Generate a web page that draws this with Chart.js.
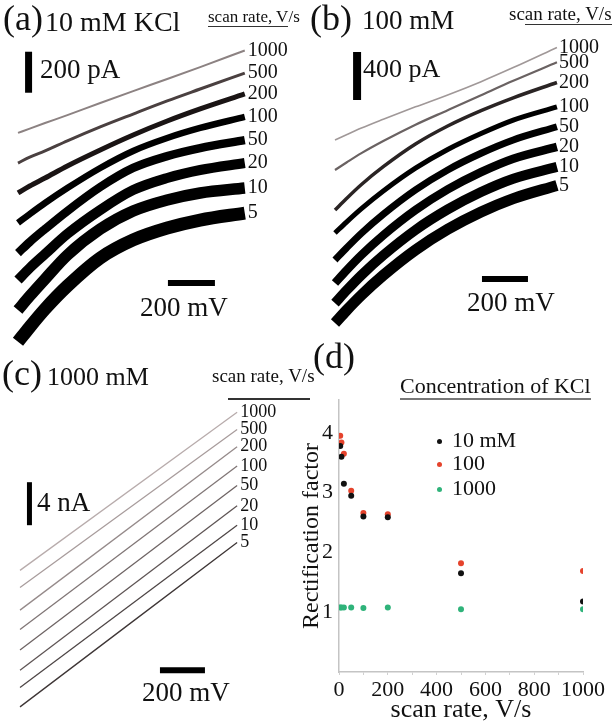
<!DOCTYPE html>
<html><head><meta charset="utf-8">
<script src="https://cdn.jsdelivr.net/npm/chart.js@4.4.0/dist/chart.umd.min.js"></script>
<style>
html,body{margin:0;padding:0;background:#fff;}
#wrap{position:relative;width:616px;height:723px;overflow:hidden;font-family:'Liberation Serif','Times New Roman',serif;color:#111;}
canvas{position:absolute;}
.t{position:absolute;white-space:nowrap;line-height:1;}
.ul{border-bottom:1.5px solid #333;}
.dot{position:absolute;width:5px;height:5px;border-radius:50%;}
</style></head><body><div id="wrap">
<canvas id="ca" width="300" height="350" style="left:0;top:0"></canvas>
<canvas id="cb" width="308" height="340" style="left:308px;top:0"></canvas>
<canvas id="cc" width="310" height="373" style="left:0;top:350px"></canvas>
<canvas id="cd" width="316" height="383" style="left:300px;top:340px"></canvas>

<div class="t" style="left:3px;top:0px;font-size:36px">(a)</div>
<div class="t" style="left:45px;top:8px;font-size:28px">10 mM KCl</div>
<div class="t" style="left:208px;top:8px;font-size:17px"><span class="ul">scan rate, V</span>/s</div>
<div class="t" style="left:40px;top:56px;font-size:27px">200 pA</div>
<div class="t" style="left:140px;top:294px;font-size:27px">200 mV</div>

<div class="t" style="left:310px;top:0px;font-size:36px">(b)</div>
<div class="t" style="left:362px;top:7px;font-size:27px">100 mM</div>
<div class="t" style="left:509px;top:4px;font-size:19px">sc<span class="ul">an rate, V/s</span></div>
<div class="t" style="left:363px;top:56px;font-size:26px">400 pA</div>
<div class="t" style="left:467px;top:289px;font-size:27px">200 mV</div>

<div class="t" style="left:2px;top:355px;font-size:36px">(c)</div>
<div class="t" style="left:47px;top:364px;font-size:26px">1000 mM</div>
<div class="t" style="left:212px;top:366px;font-size:19px">scan rate, V/s</div>
<div style="position:absolute;left:228px;top:398px;width:82px;height:1.5px;background:#333"></div>
<div class="t" style="left:37px;top:489px;font-size:27px">4 nA</div>
<div class="t" style="left:142px;top:679px;font-size:27px">200 mV</div>

<div class="t" style="left:313px;top:338px;font-size:36px">(d)</div>
<div class="t" style="left:400px;top:375px;font-size:22px"><span style="border-bottom:2.5px solid #777">Concentration of KCl</span></div>
<div class="dot" style="left:437px;top:439px;background:#111"></div>
<div class="t" style="left:452px;top:429px;font-size:22px">10 mM</div>
<div class="dot" style="left:437px;top:462px;background:#e5432c"></div>
<div class="t" style="left:452px;top:452px;font-size:22px">100</div>
<div class="dot" style="left:437px;top:487px;background:#2fb37a"></div>
<div class="t" style="left:452px;top:477px;font-size:22px">1000</div>
</div>
<script>
// ---------- data ----------
const rateLabels = ['1000', '500', '200', '100', '50', '20', '10', '5'];

// panels (a) and (b): voltage sample points, mV
const voltsAB = [0, 50, 115, 210, 350, 490, 635, 775, 965];
// panel (a) 10 mM KCl, current (pA, traces offset for clarity)
const iA1000 = [1059, 1080, 1107, 1146, 1205, 1263, 1322, 1380, 1461];
const iA500  = [912, 941, 971, 1020, 1088, 1151, 1215, 1273, 1351];
const iA200  = [766, 800, 839, 898, 976, 1049, 1117, 1176, 1249];
const iA100  = [620, 663, 717, 790, 888, 971, 1034, 1083, 1137];
const iA50   = [473, 527, 590, 678, 795, 888, 946, 985, 1024];
const iA20   = [341, 400, 468, 566, 683, 780, 839, 878, 912];
const iA10   = [195, 263, 346, 463, 590, 678, 732, 766, 790];
const iA5    = [40, 112, 200, 312, 449, 537, 595, 634, 668];
// panel (b) 100 mM
const iB1000 = [1667, 1711, 1766, 1839, 1943, 2042, 2153, 2270, 2438];
const iB500  = [1417, 1479, 1557, 1658, 1794, 1915, 2040, 2160, 2314];
const iB200  = [1083, 1179, 1296, 1444, 1633, 1783, 1911, 2018, 2146];
const iB100  = [892, 983, 1095, 1242, 1432, 1588, 1721, 1833, 1943];
const iB50   = [667, 767, 890, 1048, 1251, 1417, 1556, 1667, 1777];
const iB20   = [475, 580, 708, 873, 1083, 1255, 1399, 1511, 1610];
const iB10   = [308, 413, 541, 706, 917, 1088, 1233, 1344, 1443];
const iB5    = [142, 247, 374, 539, 750, 922, 1066, 1178, 1288];
// panel (c) 1000 mM, current in nA
const voltsC = [0, 965];
const iC1000 = [14.2, 28.9];
const iC500  = [12.6, 27.3];
const iC200  = [10.5, 25.7];
const iC100  = [8.7, 23.9];
const iC50   = [6.8, 22.1];
const iC20   = [4.9, 20.2];
const iC10   = [3.3, 18.4];
const iC5    = [1.5, 16.8];
// scale bars (data units)
const barA_V = [638, 838], barA_Vat = 327;     // 200 mV at 327 pA
const barA_I = [1255, 1455], barA_Iat = 45;    // 200 pA at 45 mV
const barB_V = [639, 839], barB_Vat = 508;
const barB_I = [2000, 2400], barB_Iat = 96;
const barC_V = [622, 822], barC_Vat = 4.9;
const barC_I = [18.4, 22.4], barC_Iat = 42;
// panel (d) rectification factor
const scanRates = [5, 10, 20, 50, 100, 200, 500, 1000];
const rf10mM   = [3.78, 3.60, 3.15, 2.95, 2.60, 2.59, 1.65, 1.18];
const rf100mM  = [3.95, 3.84, 3.65, 3.03, 2.66, 2.64, 1.82, 1.69];
const rf1000mM = [1.08, 1.08, 1.08, 1.08, 1.07, 1.08, 1.05, 1.05];
const xTicksD = [0, 100, 200, 300, 400, 500, 600, 700, 800, 900, 1000];
const xLabelsD = [0, 200, 400, 600, 800, 1000];
const yTicksD = [1, 2, 3, 4];

// ---------- styles ----------
const widthsA = [2, 3, 5, 6.5, 8.5, 10, 11.5, 13];
const colorsA = ['#8c8282', '#4a4040', '#1a1414', '#000', '#000', '#000', '#000', '#000'];
const widthsB = [1.6, 2.2, 3.5, 5, 7, 8.5, 10, 11];
const colorsB = ['#a09898', '#6a6262', '#2a2424', '#000', '#000', '#000', '#000', '#000'];
const widthsC = [1.3, 1.3, 1.3, 1.3, 1.3, 1.3, 1.3, 1.3];
const colorsC = ['#b8acac', '#a89c9c', '#958a8a', '#807676', '#6e6464', '#5e5454', '#4e4646', '#3e3636'];

const endLabels = {
  id: 'endLabels',
  afterDatasetsDraw(chart, args, opts) {
    if (!opts || !opts.font) return;
    const ctx = chart.ctx;
    ctx.save();
    ctx.font = opts.font;
    ctx.fillStyle = opts.color || '#111';
    ctx.textAlign = 'left';
    ctx.textBaseline = 'middle';
    chart.data.datasets.forEach((ds, i) => {
      if (!ds.endLabel) return;
      const meta = chart.getDatasetMeta(i);
      const pt = meta.data[meta.data.length - 1];
      ctx.fillText(ds.endLabel, pt.x + opts.dx, pt.y + opts.dy);
    });
    ctx.restore();
  }
};
Chart.register(endLabels);

function pts(xs, ys) { return xs.map((x, i) => ({x: x, y: ys[i]})); }

function traceChart(id, series, volts, widths, colors, bars, layout, labelOpts) {
  const datasets = series.map((s, i) => ({
    data: pts(volts, s), endLabel: rateLabels[i],
    borderColor: colors[i], borderWidth: widths[i], pointRadius: 0,
    cubicInterpolationMode: 'monotone', borderCapStyle: 'butt', clip: false
  }));
  bars.forEach(b => datasets.push({
    data: b.data, borderColor: '#000', borderWidth: b.w, pointRadius: 0,
    borderCapStyle: 'butt', clip: false
  }));
  const cv = document.getElementById(id);
  const W = cv.width, H = cv.height;
  new Chart(cv, {
    type: 'line',
    data: { datasets },
    options: {
      responsive: false, animation: false, devicePixelRatio: 1,
      layout: { padding: 0 },
      plugins: { legend: { display: false }, tooltip: { enabled: false }, endLabels: labelOpts },
      scales: {
        x: { type: 'linear', display: false, min: -layout.x0 / layout.pxPerV, max: (W - layout.x0) / layout.pxPerV },
        y: { type: 'linear', display: false, min: 0, max: H / layout.pxPerI }
      }
    }
  });
}

traceChart('ca', [iA1000, iA500, iA200, iA100, iA50, iA20, iA10, iA5], voltsAB, widthsA, colorsA,
  [{ data: [{x: barA_V[0], y: barA_Vat}, {x: barA_V[1], y: barA_Vat}], w: 6 },
   { data: [{x: barA_Iat, y: barA_I[0]}, {x: barA_Iat, y: barA_I[1]}], w: 7 }],
  { x0: 18, pxPerV: 47 / 200, pxPerI: 41 / 200 },
  { font: '20px "Liberation Serif"', dx: 3, dy: 0, color: '#111' });

traceChart('cb', [iB1000, iB500, iB200, iB100, iB50, iB20, iB10, iB5], voltsAB, widthsB, colorsB,
  [{ data: [{x: barB_V[0], y: barB_Vat}, {x: barB_V[1], y: barB_Vat}], w: 6 },
   { data: [{x: barB_Iat, y: barB_I[0]}, {x: barB_Iat, y: barB_I[1]}], w: 8 }],
  { x0: 27, pxPerV: 46 / 200, pxPerI: 48 / 400 },
  { font: '20px "Liberation Serif"', dx: 2, dy: 0, color: '#111' });

traceChart('cc', [iC1000, iC500, iC200, iC100, iC50, iC20, iC10, iC5], voltsC, widthsC, colorsC,
  [{ data: [{x: barC_V[0], y: barC_Vat}, {x: barC_V[1], y: barC_Vat}], w: 6 },
   { data: [{x: barC_Iat, y: barC_I[0]}, {x: barC_Iat, y: barC_I[1]}], w: 5 }],
  { x0: 20, pxPerV: 45 / 200, pxPerI: 43 / 4 },
  { font: '18px "Liberation Serif"', dx: 3, dy: 0, color: '#111' });

// panel (d)
const serif = '"Liberation Serif", "Times New Roman", serif';
new Chart(document.getElementById('cd'), {
  type: 'scatter',
  data: {
    datasets: [
      { label: '10 mM', data: pts(scanRates, rf10mM), pointBackgroundColor: '#111', pointBorderWidth: 0, pointRadius: 3 },
      { label: '100', data: pts(scanRates, rf100mM), pointBackgroundColor: '#e5432c', pointBorderWidth: 0, pointRadius: 3 },
      { label: '1000', data: pts(scanRates, rf1000mM), pointBackgroundColor: '#2fb37a', pointBorderWidth: 0, pointRadius: 3 }
    ]
  },
  options: {
    responsive: false, animation: false, devicePixelRatio: 1,
    layout: { padding: { top: 60, right: 33, left: 0, bottom: 0 } },
    plugins: { legend: { display: false }, tooltip: { enabled: false } },
    scales: {
      x: {
        type: 'linear', min: 0, max: 1000,
        afterBuildTicks: s => { s.ticks = xTicksD.map(v => ({ value: v })); },
        afterFit: s => { s.height = 51; },
        grid: { display: true, drawOnChartArea: false, drawTicks: true, tickLength: 3, color: '#d0d0d0', lineWidth: 1 },
        border: { display: true, color: '#c4c4c4', width: 1.5 },
        ticks: { padding: 2, color: '#111', font: { family: serif, size: 22 }, maxRotation: 0, autoSkip: false,
                 callback: v => (xLabelsD.includes(v) ? String(v) : '') },
        title: { display: true, text: 'scan rate, V/s', color: '#111', font: { family: serif, size: 26, lineHeight: 1 }, padding: 0 }
      },
      y: {
        type: 'linear', min: 0, max: 4.55,
        afterBuildTicks: s => { s.ticks = yTicksD.map(v => ({ value: v })); },
        afterFit: s => { s.width = 39; },
        grid: { display: false, drawTicks: false },
        border: { display: true, color: '#c4c4c4', width: 1.5 },
        ticks: { padding: 6, color: '#111', font: { family: serif, size: 22 }, callback: v => String(v) },
        title: { display: true, text: 'Rectification factor', color: '#111', font: { family: serif, size: 24, lineHeight: 1 }, padding: 0 }
      }
    }
  }
});
</script>
</body></html>
